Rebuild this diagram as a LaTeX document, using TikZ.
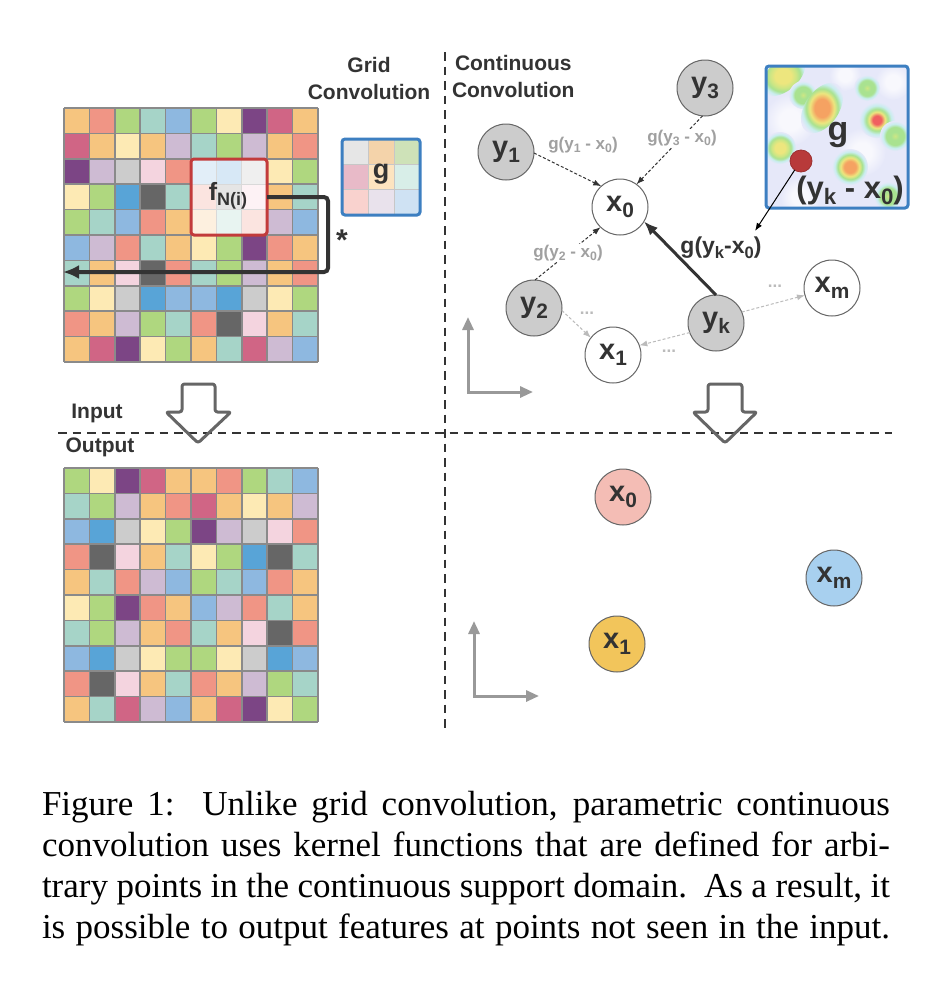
\documentclass[tikz,border=0pt]{standalone}
\usepackage{fontspec}
\setmainfont{Liberation Sans}
\newfontfamily\capfont{Liberation Serif}
\usetikzlibrary{arrows.meta}
% grid palette
\definecolor{cO}{HTML}{F6C57F}
\definecolor{cS}{HTML}{F09585}
\definecolor{cG}{HTML}{AFD77F}
\definecolor{cT}{HTML}{A6D4C8}
\definecolor{cB}{HTML}{8EB8E0}
\definecolor{cY}{HTML}{FDEAB4}
\definecolor{cP}{HTML}{7C4585}
\definecolor{cR}{HTML}{D06585}
\definecolor{cL}{HTML}{CEBBD3}
\definecolor{cK}{HTML}{CCCCCC}
\definecolor{cD}{HTML}{666666}
\definecolor{cI}{HTML}{F4D4DF}
\definecolor{cU}{HTML}{58A4D7}
% others
\definecolor{cTxt}{HTML}{333333}
\definecolor{cGridLine}{HTML}{8A8A8A}
\definecolor{cRedBox}{HTML}{C23B3B}
\definecolor{cBlueBox}{HTML}{3D7FC1}
\definecolor{cLab}{HTML}{A0A0A0}
\definecolor{cLight}{HTML}{BBBBBB}
\definecolor{cAxis}{HTML}{999999}
\definecolor{cHollow}{HTML}{666666}
\definecolor{cCircle}{HTML}{666666}
\definecolor{cNodeIn}{HTML}{CCCCCC}
\definecolor{cPink}{HTML}{F4BDB5}
\definecolor{cSky}{HTML}{A8D0EF}
\definecolor{cGold}{HTML}{F2C55B}
\definecolor{cDot}{HTML}{B83A3A}
% kernel tints
\definecolor{tA}{HTML}{E2EEF8}
\definecolor{tB}{HTML}{D7E8F6}
\definecolor{tC}{HTML}{EFEFEF}
\definecolor{tD}{HTML}{FBE4E0}
\definecolor{tE}{HTML}{E5E5E5}
\definecolor{tF}{HTML}{FDF2F5}
\definecolor{tG}{HTML}{FDF0DF}
\definecolor{tH}{HTML}{E8F4F1}
\definecolor{tI}{HTML}{FBE4E0}
% g kernel cells
\definecolor{kA}{HTML}{E6E6E6}
\definecolor{kB}{HTML}{F4D3AA}
\definecolor{kC}{HTML}{CEE2B8}
\definecolor{kD}{HTML}{E8BAC8}
\definecolor{kE}{HTML}{FDE4C0}
\definecolor{kF}{HTML}{D8EEE8}
\definecolor{kG}{HTML}{F9D2CE}
\definecolor{kH}{HTML}{E9E2EC}
\definecolor{kI}{HTML}{CFE2F3}
% heat map
\definecolor{hBg}{HTML}{E6E8F9}
\definecolor{hRed}{HTML}{F06060}
\definecolor{hOra}{HTML}{F5A262}
\definecolor{hYel}{HTML}{EDE67E}
\definecolor{hYG}{HTML}{CDE684}
\definecolor{hGrn}{HTML}{A9E290}
\definecolor{hCya}{HTML}{C8EDEE}
\definecolor{hWhite}{HTML}{F8F8FD}
\pgfdeclareradialshading{hotR}{\pgfpoint{0bp}{0bp}}{color(0bp)=(hRed);color(6bp)=(hRed);color(11bp)=(hYel);color(15bp)=(hGrn);color(20bp)=(hCya);color(25bp)=(hBg);color(50bp)=(hBg)}
\pgfdeclareradialshading{hotO}{\pgfpoint{0bp}{0bp}}{color(0bp)=(hOra);color(8bp)=(hOra);color(13bp)=(hYel);color(17bp)=(hGrn);color(21bp)=(hCya);color(25bp)=(hBg);color(50bp)=(hBg)}
\pgfdeclareradialshading{hotY}{\pgfpoint{0bp}{0bp}}{color(0bp)=(hYel);color(8bp)=(hYel);color(13bp)=(hYG);color(17bp)=(hGrn);color(21bp)=(hCya);color(25bp)=(hBg);color(50bp)=(hBg)}
\pgfdeclareradialshading{hotG}{\pgfpoint{0bp}{0bp}}{color(0bp)=(hYG);color(7bp)=(hGrn);color(15bp)=(hGrn);color(20bp)=(hCya);color(25bp)=(hBg);color(50bp)=(hBg)}
\pgfdeclareradialshading{softW}{\pgfpoint{0bp}{0bp}}{color(0bp)=(hWhite);color(10bp)=(hWhite);color(25bp)=(hBg);color(50bp)=(hBg)}
\newcommand\sbx[1]{\raisebox{-0.2em}{\scalebox{0.72}{#1}}}
\begin{document}
\begin{tikzpicture}[x=1pt,y=-1pt,
  every node/.style={inner sep=0pt,outer sep=0pt},
  gline/.style={draw=cGridLine,line width=1.5pt},
  title/.style={font=\fontsize{21}{27}\selectfont\bfseries,text=cTxt},
  pt/.style={circle,draw=cCircle,line width=1pt,minimum size=56pt,inner sep=0pt,
    font=\fontsize{29}{30}\selectfont\bfseries,text=cTxt},
  ptin/.style={pt,fill=cNodeIn},
  ptout/.style={pt,fill=white},
  elab/.style={font=\fontsize{17}{18}\selectfont\bfseries,text=cLab,fill=white,inner sep=1pt},
  dots/.style={font=\fontsize{17}{18}\selectfont\bfseries,text=cLight},
  dedge/.style={draw=cTxt,line width=1pt,dash pattern=on 3pt off 2pt,-{Latex[length=8pt,width=6pt]}},
  gedge/.style={draw=cLight,line width=1pt,dash pattern=on 3pt off 2pt,-{Latex[length=8pt,width=6pt]}},
  divider/.style={draw=cTxt,line width=2.5pt,dash pattern=on 8.5pt off 6pt},
  axis/.style={draw=cAxis,line width=3pt,{Triangle[length=13pt,width=11pt]}-{Triangle[length=13pt,width=11pt]}},
  hollow/.style={draw=cHollow,line width=3pt,rounded corners=2.5pt,line join=round},
  convarrow/.style={draw=cTxt,line width=4pt,rounded corners=4pt,-{Latex[length=16pt,width=14pt]}},
  boxline/.style={line width=3pt,rounded corners=3pt},
  capline/.style={anchor=base west,font=\capfont\fontsize{35}{41}\selectfont}
]
\useasboundingbox (0,0) rectangle (936,1004);
\fill[white] (0,0) rectangle (936,1004);

% ---------- input grid ----------
\foreach \rowlist [count=\r from 0] in {{O,S,G,T,B,G,Y,P,R,O},{R,O,Y,O,L,T,G,L,O,S},{P,L,K,I,S,S,S,S,Y,G},{Y,G,U,D,T,T,T,T,O,T},{G,T,B,S,O,O,O,O,L,B},{B,L,S,T,O,Y,G,P,S,O},{T,O,I,D,S,T,G,L,O,S},{G,Y,K,U,B,B,U,K,Y,G},{S,O,L,G,T,S,D,I,O,T},{O,R,P,Y,G,O,T,R,L,B}}{
  \foreach \cc [count=\k from 0] in \rowlist {
    \fill[c\cc] ({64+25.4*\k},{108+25.4*\r}) rectangle ++(25.4,25.4);
  }
}
\foreach \i in {0,...,10}{
  \draw[gline] ({64+25.4*\i},108) -- ({64+25.4*\i},362);
  \draw[gline] (64,{108+25.4*\i}) -- (318,{108+25.4*\i});
}
% tinted neighbourhood
\foreach \cc [count=\k from 0] in {tA,tB,tC,tD,tE,tF,tG,tH,tI}{
  \pgfmathtruncatemacro\cx{mod(\k,3)}
  \pgfmathtruncatemacro\cy{div(\k,3)}
  \fill[\cc] ({191+25.4*\cx},{158.8+25.4*\cy}) rectangle ++(25.4,25.4);
}
\foreach \i in {1,2}{
  \draw[draw=white!85!black,line width=1pt] ({191+25.4*\i},158.8) -- ({191+25.4*\i},235);
  \draw[draw=white!85!black,line width=1pt] (191,{158.8+25.4*\i}) -- (267,{158.8+25.4*\i});
}
\node[draw=cRedBox,boxline,minimum width=76pt,minimum height=76pt] (fbox) at (229,197) {};
\node[font=\fontsize{25}{26}\selectfont\bfseries,text=cTxt] (flab) at (228,196) {f\sbx{N(i)}};
\coordinate (ca) at (63,272);
\draw[convarrow] (fbox.east) -- (328,197) -- (328,272) -- (ca);
\node[font=\fontsize{30}{30}\selectfont\bfseries,text=cTxt] (star) at (342,240) {*};

% ---------- kernel g ----------
\foreach \cc [count=\k from 0] in {kA,kB,kC,kD,kE,kF,kG,kH,kI}{
  \pgfmathtruncatemacro\cx{mod(\k,3)}
  \pgfmathtruncatemacro\cy{div(\k,3)}
  \fill[\cc] ({342+26*\cx},{139+25.33*\cy}) rectangle ++(26,25.33);
}
\foreach \i in {1,2}{
  \draw[draw=white!78!black,line width=1pt] ({342+26*\i},139) -- ({342+26*\i},215);
  \draw[draw=white!78!black,line width=1pt] (342,{139+25.33*\i}) -- (420,{139+25.33*\i});
}
\node[draw=cBlueBox,boxline,minimum width=78pt,minimum height=76pt] (kbox) at (381,177) {};
\node[font=\fontsize{27}{28}\selectfont\bfseries,text=cTxt] (kg) at (381,174) {g};

% ---------- titles ----------
\node[title,align=center] (gtitle) at (369,78) {Grid\\Convolution};
\node[title,align=left,anchor=west] (ctitle) at (452,76) {\hspace*{3pt}Continuous\\Convolution};
\node[title] (inlab) at (97,413) {Input};
\node[title] (outlab) at (100,447) {Output};

% ---------- dividers ----------
\coordinate (vtop) at (445,52);
\coordinate (vbot) at (445,730);
\coordinate (hl) at (58,433);
\coordinate (hr) at (892,433);
\draw[divider] (vtop) -- (vbot);
\draw[divider] (hl) -- (hr);

% ---------- hollow arrows ----------
\draw[hollow] (182,384) -- (215,384) -- (215,412) -- (231,412) -- (198,443) -- (166,412) -- (182,412) -- cycle;
\draw[hollow] (708,384) -- (742,384) -- (742,412) -- (757,412) -- (725,443) -- (693,412) -- (708,412) -- cycle;

% ---------- output grid ----------
\begin{scope}[shift={(0,360)}]
\foreach \rowlist [count=\r from 0] in {{G,Y,P,R,O,O,S,G,T,B},{T,G,L,O,S,R,O,Y,O,L},{B,U,K,Y,G,P,L,K,I,S},{S,D,I,O,T,Y,G,U,D,T},{O,T,S,L,B,G,T,B,S,O},{Y,G,P,S,O,B,L,S,T,O},{T,G,L,O,S,T,O,I,D,S},{B,U,K,Y,G,G,Y,K,U,B},{S,D,I,O,T,S,O,L,G,T},{O,T,R,L,B,O,R,P,Y,G}}{
  \foreach \cc [count=\k from 0] in \rowlist {
    \fill[c\cc] ({64+25.4*\k},{108+25.4*\r}) rectangle ++(25.4,25.4);
  }
}
\foreach \i in {0,...,10}{
  \draw[gline] ({64+25.4*\i},108) -- ({64+25.4*\i},362);
  \draw[gline] (64,{108+25.4*\i}) -- (318,{108+25.4*\i});
}
\end{scope}

% ---------- heat map ----------
\begin{scope}
\clip (766,66) rectangle (908,208);
\fill[hBg] (766,66) rectangle (908,208);
\shade[shading=softW] (790,120) circle (26);
\shade[shading=softW] (862,152) circle (24);
\shade[shading=softW] (800,197) circle (20);
\shade[shading=softW] (893,82) circle (18);
\shade[shading=softW] (845,75) circle (16);
\shade[shading=hotY,rotate around={40:(783,76)}] (783,76) ellipse (26 and 15);
\shade[shading=hotG] (803,95) circle (14);
\shade[shading=hotO,rotate around={56:(822,108)}] (822,108) ellipse (28 and 17);
\shade[shading=hotG] (867,88) circle (13);
\shade[shading=hotR] (877,120) circle (18);
\shade[shading=hotG] (895,136) circle (15);
\shade[shading=hotY] (780,148) circle (16);
\shade[shading=hotO] (850,167) circle (18);
\shade[shading=hotG] (888,196) circle (14);
\end{scope}
\node[font=\fontsize{34}{34}\selectfont\bfseries,text=cTxt] (hg) at (838,135) {g};
\node[font=\fontsize{31}{32}\selectfont\bfseries,text=cTxt] (hy) at (850,190) {(y\sbx{k} - x\sbx{0})};
\node[circle,fill=cDot,draw=cDot!85!black,line width=0.8pt,minimum size=22pt] (dot) at (801,161) {};
\node[draw=cBlueBox,boxline,minimum width=142pt,minimum height=142pt] (hbox) at (837,137) {};

% ---------- continuous convolution graph ----------
\node[ptin] (y1) at (506,152) {y\sbx{1}};
\node[ptin] (y3) at (705,88) {y\sbx{3}};
\node[ptout] (x0) at (620,207) {x\sbx{0}};
\node[ptin] (y2) at (534,308) {y\sbx{2}};
\node[ptout] (x1) at (613,355) {x\sbx{1}};
\node[ptin] (yk) at (716,323) {y\sbx{k}};
\node[ptout] (xm) at (832,288) {x\sbx{m}};

\draw[dedge] (y1.-2) -- (x0.132);
\draw[dedge] (y3.-95) -- (x0.54);
\draw[dedge] (y2.88) -- (x0.-134);
\draw[draw=cTxt,line width=3pt,-{Latex[length=14pt,width=11pt]}] (yk.90) -- (x0.-31);
\draw[gedge] (y2.-5) -- (x1.142);
\draw[gedge] (yk.-160) -- (x1.20);
\draw[gedge] (yk.23) -- (xm.-165);

\node[elab] (l1) at (583,145) {g(y\sbx{1} - x\sbx{0})};
\node[elab] (l3) at (682,138) {g(y\sbx{3} - x\sbx{0})};
\node[elab] (l2) at (568,253) {g(y\sbx{2} - x\sbx{0})};
\node[font=\fontsize{23}{24}\selectfont\bfseries,text=cTxt] (lk) at (721,248) {g(y\sbx{k}-x\sbx{0})};
\coordinate (gk) at (755,231);
\draw[draw=black,line width=1pt,-{Latex[length=8pt,width=6pt]}] (dot.-125) -- (gk);

\node[dots] (d1) at (587,313) {...};
\node[dots] (d2) at (669,351) {...};
\node[dots] (d3) at (775,286) {...};

\coordinate (ta) at (468,392);
\draw[axis] (468,317) -- (ta) -- (533,392);

% ---------- output points ----------
\node[pt,fill=cPink] (ox0) at (623,497) {x\sbx{0}};
\node[pt,fill=cSky] (oxm) at (834,578) {x\sbx{m}};
\node[pt,fill=cGold] (ox1) at (617,644) {x\sbx{1}};
\coordinate (tb) at (474,696);
\draw[axis] (474,621) -- (tb) -- (539,696);

% ---------- caption ----------
\node[capline] (cap1) at (42,815) {\makebox[848pt][s]{Figure 1:\ \ Unlike grid convolution, parametric continuous}};
\node[capline] (cap2) at (42,856) {\makebox[848pt][s]{convolution uses kernel functions that are defined for arbi-}};
\node[capline] (cap3) at (42,897) {\makebox[848pt][s]{trary points in the continuous support domain.\ \ As a result, it}};
\node[capline] (cap4) at (42,938) {\makebox[848pt][s]{is possible to output features at points not seen in the input.}};
\end{tikzpicture}
\end{document}
